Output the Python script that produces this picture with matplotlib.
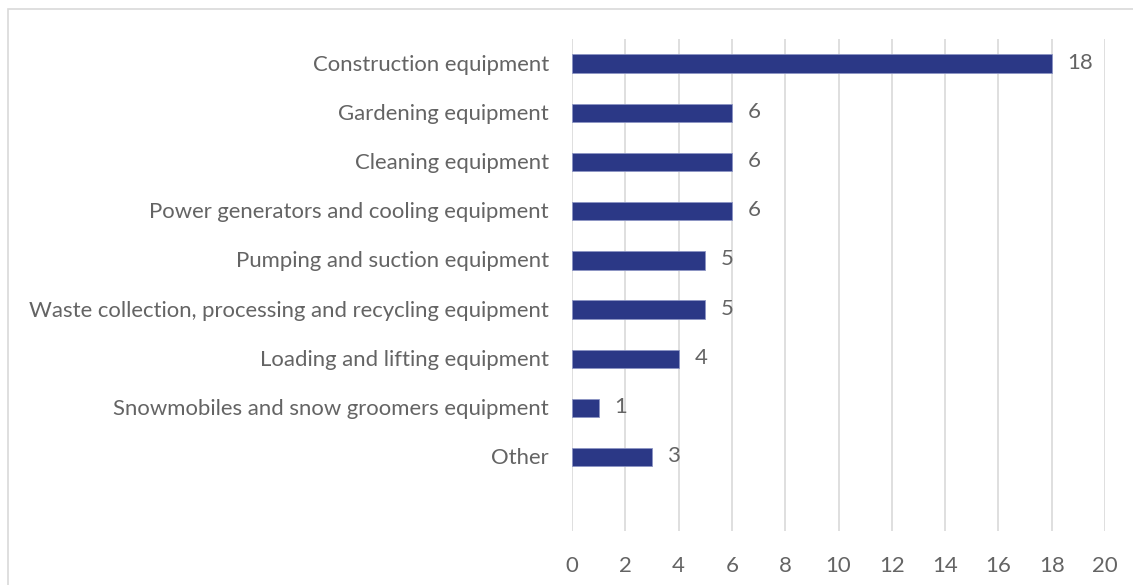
import matplotlib.pyplot as plt
from matplotlib.patches import Rectangle

categories = [
    "Construction equipment",
    "Gardening equipment",
    "Cleaning equipment",
    "Power generators and cooling equipment",
    "Pumping and suction equipment",
    "Waste collection, processing and recycling equipment",
    "Loading and lifting equipment",
    "Snowmobiles and snow groomers equipment",
    "Other",
]
counts = [18, 6, 6, 6, 5, 5, 4, 1, 3]
xticks = list(range(0, 21, 2))

bar_color = "#2B3886"
text_color = "#646464"
grid_color = "#D9D9D9"
fs = 15.9

plt.rcParams["font.family"] = ["Lato", "DejaVu Sans"]

fig = plt.figure(figsize=(11.33, 5.85), dpi=100)
ax = fig.add_axes([572 / 1133, 1 - 531 / 585, (1105 - 572) / 1133, (531 - 39) / 585])

pos = list(range(len(categories)))
ax.barh(pos, counts, height=0.37, color=bar_color, edgecolor="#8C94C4", linewidth=0.6, zorder=3)
for p, v in zip(pos, counts):
    ax.text(v + 0.6, p - 0.02, str(v), va="center", ha="left", fontsize=fs, color=text_color)

ax.set_xlim(0, 20)
ax.set_ylim(9.5, -0.5)
ax.set_xticks(xticks)
ax.set_yticks([p - 0.02 for p in pos])
ax.set_yticklabels(categories)
ax.tick_params(axis="both", length=0, labelsize=fs, labelcolor=text_color)
ax.tick_params(axis="y", pad=16.5)
ax.tick_params(axis="x", pad=18)
ax.grid(axis="x", color=grid_color, linewidth=1.2, zorder=0)
for s in ax.spines.values():
    s.set_visible(False)

# outer chart border
fig.patches.append(Rectangle((8 / 1133, -0.1), 1.2, 1 - 9 / 585 + 0.1,
                             transform=fig.transFigure, fill=False,
                             edgecolor="#D9D9D9", linewidth=1.2))

fig.savefig("out.png", dpi=100)
